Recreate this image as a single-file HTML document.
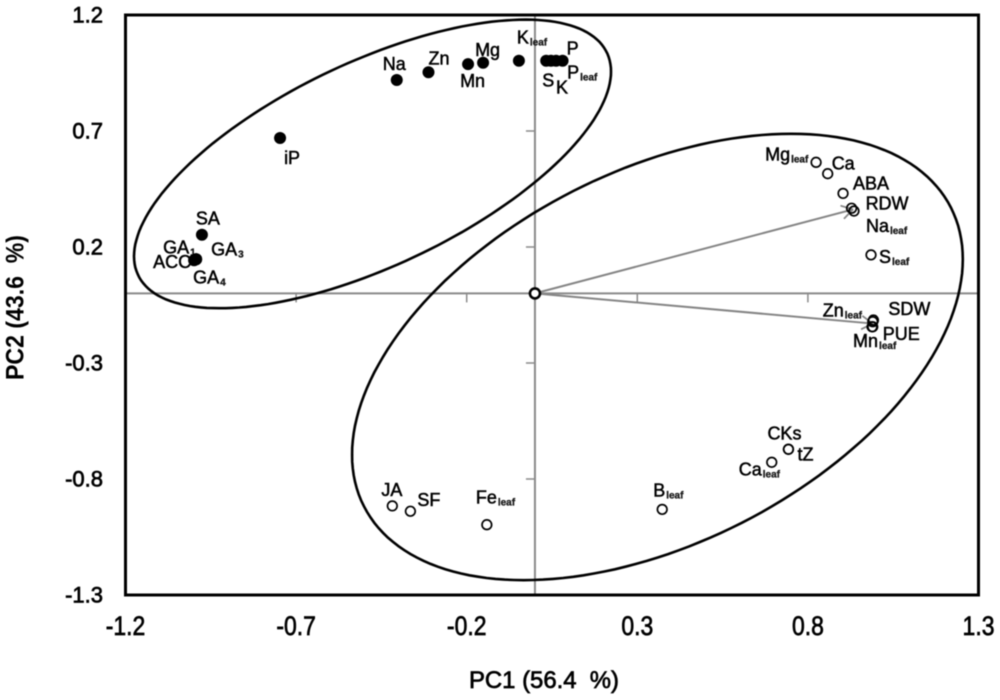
<!DOCTYPE html>
<html lang="en">
<head>
<meta charset="utf-8">
<title>PCA biplot</title>
<style>
html,body{margin:0;padding:0;background:#fff;width:1000px;height:700px;overflow:hidden}
svg{display:block;filter:blur(0.55px)}
text{font-family:"Liberation Sans",sans-serif;fill:#000}
.pl{font-size:18px;stroke:#000;stroke-width:.5px}
.sb{font-size:10px;font-weight:700;fill:#222;stroke-width:.3px}
.tk{stroke:#000;stroke-width:.7px}
</style>
</head>
<body>
<svg id="chart" xmlns="http://www.w3.org/2000/svg" width="1000" height="700" viewBox="0 0 1000 700"></svg>
<script>
var xTicks = [-1.2, -0.7, -0.2, 0.3, 0.8, 1.3];
var yTicks = [1.2, 0.7, 0.2, -0.3, -0.8, -1.3];

var filledNames = ['Na','Zn','Mn','Mg','K','S','K','P','P','iP','SA','GA','GA','ACC','GA'];
var filledSubs  = ['','','','','leaf','','','leaf','','','','1','3','','4'];
var filledPC1 = [-0.405,-0.312,-0.196,-0.152,-0.047,0.033,0.047,0.062,0.081,-0.747,-0.976,-0.993,-0.993,-0.999,-0.993];
var filledPC2 = [0.920,0.953,0.988,0.994,1.003,1.003,1.003,1.003,1.003,0.670,0.253,0.147,0.147,0.143,0.147];
var filledLabelDx = [-14,0,-8,-8,-2,-4,5,11,4,4,-6,-33,15,-41,-3];
var filledLabelDy = [-10,-8,23,-7,-17,26,33,18,-6,26,-10,-6,-4,8,24];

var hollowNames = ['Mg','Ca','ABA','RDW','Na','S','SDW','Zn','PUE','Mn','JA','SF','Fe','B','Ca','CKs','tZ'];
var hollowSubs  = ['leaf','','','','leaf','leaf','','leaf','','leaf','','','leaf','leaf','leaf','',''];
var hollowPC1 = [0.824,0.858,0.903,0.928,0.935,0.985,0.992,0.990,0.990,0.988,-0.418,-0.365,-0.141,0.373,0.694,0.743,0.743];
var hollowPC2 = [0.565,0.516,0.431,0.367,0.355,0.166,-0.115,-0.122,-0.144,-0.144,-0.916,-0.939,-0.997,-0.931,-0.728,-0.672,-0.672];
var hollowLabelDx = [-51,4,10,14,12,8,15,-50,10,-19,-11,7,-11,-9,-33,-21,9];
var hollowLabelDy = [-2,-4,-4,1,21,8,-5,-5,13,20,-10,-5,-21,-13,13,-10,11];

var arrowPC1 = [0.932, 0.990];
var arrowPC2 = [0.362, -0.130];

var groupCenterPC1 = [-0.476, 0.359];
var groupCenterPC2 = [0.558, -0.274];
var groupExtentPC1 = [0.699, 0.895];
var groupExtentPC2 = [0.622, 0.962];
var groupCorrelation = [0.640, 0.438];
var groupNames = ['hormone-mineral-ellipse', 'leaf-trait-ellipse'];

var plotL = 125.5, plotR = 978.5, plotT = 15, plotB = 595;
var xMin = -1.2, xMax = 1.3, yMin = -1.3, yMax = 1.2;
function sx(v){ return plotL + (v - xMin) / (xMax - xMin) * (plotR - plotL); }
function sy(v){ return plotB - (v - yMin) / (yMax - yMin) * (plotB - plotT); }

var svg = document.getElementById('chart');
var NS = 'http://www.w3.org/2000/svg';
function mk(tag, attrs){
  var el = document.createElementNS(NS, tag);
  for (var k in attrs) el.setAttribute(k, attrs[k]);
  svg.appendChild(el);
  return el;
}

/* zero axes */
var zx = sx(0), zy = sy(0), el;
el = mk('line', {x1: plotL, x2: plotR, y1: zy, y2: zy, stroke: '#8a8a8a', 'stroke-width': 2});


el = mk('line', {x1: zx, x2: zx, y1: plotT, y2: plotB, stroke: '#8a8a8a', 'stroke-width': 2});



/* ticks and tick labels */
xTicks.forEach(function(v){
  var t = mk('line', {x1: sx(v), x2: sx(v), y1: zy, y2: zy + 9, stroke: '#8a8a8a', 'stroke-width': 1.5});
  
  
  var l = mk('text', {transform: 'translate(' + sx(v) + ',635) scale(.85,1)', 'text-anchor': 'middle', 'font-size': 27, 'class': 'tk'});
  l.textContent = v.toFixed(1);
  
  
});
yTicks.forEach(function(v){
  var t = mk('line', {x1: zx - 9, x2: zx, y1: sy(v), y2: sy(v), stroke: '#8a8a8a', 'stroke-width': 1.5});
  
  
  var l = mk('text', {x: 103, y: sy(v) + 7.5, 'text-anchor': 'end', 'font-size': 22, 'class': 'tk'});
  l.textContent = v.toFixed(1);
  
  
});

/* frame */
el = mk('rect', {x: plotL, y: plotT, width: plotR - plotL, height: plotB - plotT, fill: 'none', stroke: '#000', 'stroke-width': 3});



/* group ellipses */
groupNames.forEach(function(name, i){
  var phi = Math.acos(groupCorrelation[i]), pts = [];
  for (var a = 0; a < 180; a++) {
    var t = a / 180 * 2 * Math.PI;
    var px = sx(groupCenterPC1[i] + groupExtentPC1[i] * Math.cos(t));
    var py = sy(groupCenterPC2[i] + groupExtentPC2[i] * Math.cos(t - phi));
    pts.push(px.toFixed(1) + ',' + py.toFixed(1));
  }
  var e = mk('polygon', {points: pts.join(' '), fill: 'none', stroke: '#000', 'stroke-width': 2.6});
  
  
});

/* loading arrows */
arrowPC1.forEach(function(v, i){
  var ex = sx(v), ey = sy(arrowPC2[i]);
  var ang = Math.atan2(ey - zy, ex - zx);
  var a = mk('line', {x1: zx, y1: zy, x2: ex, y2: ey, stroke: '#858585', 'stroke-width': 2});
  
  
  [-0.55, 0.55].forEach(function(d){
    var h = mk('line', {x1: ex, y1: ey, x2: ex - 13 * Math.cos(ang + d), y2: ey - 13 * Math.sin(ang + d), stroke: '#858585', 'stroke-width': 1.8});
    
    
  });
});

function addLabel(x, y, name, sub){
  var t = mk('text', {x: x, y: y, 'class': 'pl'});
  t.textContent = name;
  if (sub) {
    var s = document.createElementNS(NS, 'tspan');
    s.setAttribute('class', 'sb');
    s.setAttribute('dy', '2');
    s.setAttribute('dx', '1');
    s.textContent = sub;
    t.appendChild(s);
  }
  return t;
}

/* filled points */
filledNames.forEach(function(n, i){
  var c = mk('circle', {cx: sx(filledPC1[i]), cy: sy(filledPC2[i]), r: 6, fill: '#000'});
  
  
  var l = addLabel(sx(filledPC1[i]) + filledLabelDx[i], sy(filledPC2[i]) + filledLabelDy[i], n, filledSubs[i]);
  
  
});

/* hollow points */
hollowNames.forEach(function(n, i){
  var c = mk('circle', {cx: sx(hollowPC1[i]), cy: sy(hollowPC2[i]), r: 4.8, fill: 'none', stroke: '#000', 'stroke-width': 1.7});
  
  
  var l = addLabel(sx(hollowPC1[i]) + hollowLabelDx[i], sy(hollowPC2[i]) + hollowLabelDy[i], n, hollowSubs[i]);
  
  
});

/* origin marker */
el = mk('circle', {cx: zx, cy: zy, r: 5, fill: '#fff', stroke: '#000', 'stroke-width': 2.6});



/* axis titles */
el = mk('text', {x: 469, y: 688, 'font-size': 24, textLength: 150, lengthAdjust: 'spacingAndGlyphs', 'class': 'tk', style: 'white-space:pre'});
el.textContent = 'PC1 (56.4  %)';


el = mk('text', {transform: 'translate(23.5,380) rotate(-90)', 'font-size': 25, 'font-weight': 700, textLength: 145, lengthAdjust: 'spacingAndGlyphs', style: 'white-space:pre'});
el.textContent = 'PC2 (43.6  %)';


</script>
</body>
</html>
